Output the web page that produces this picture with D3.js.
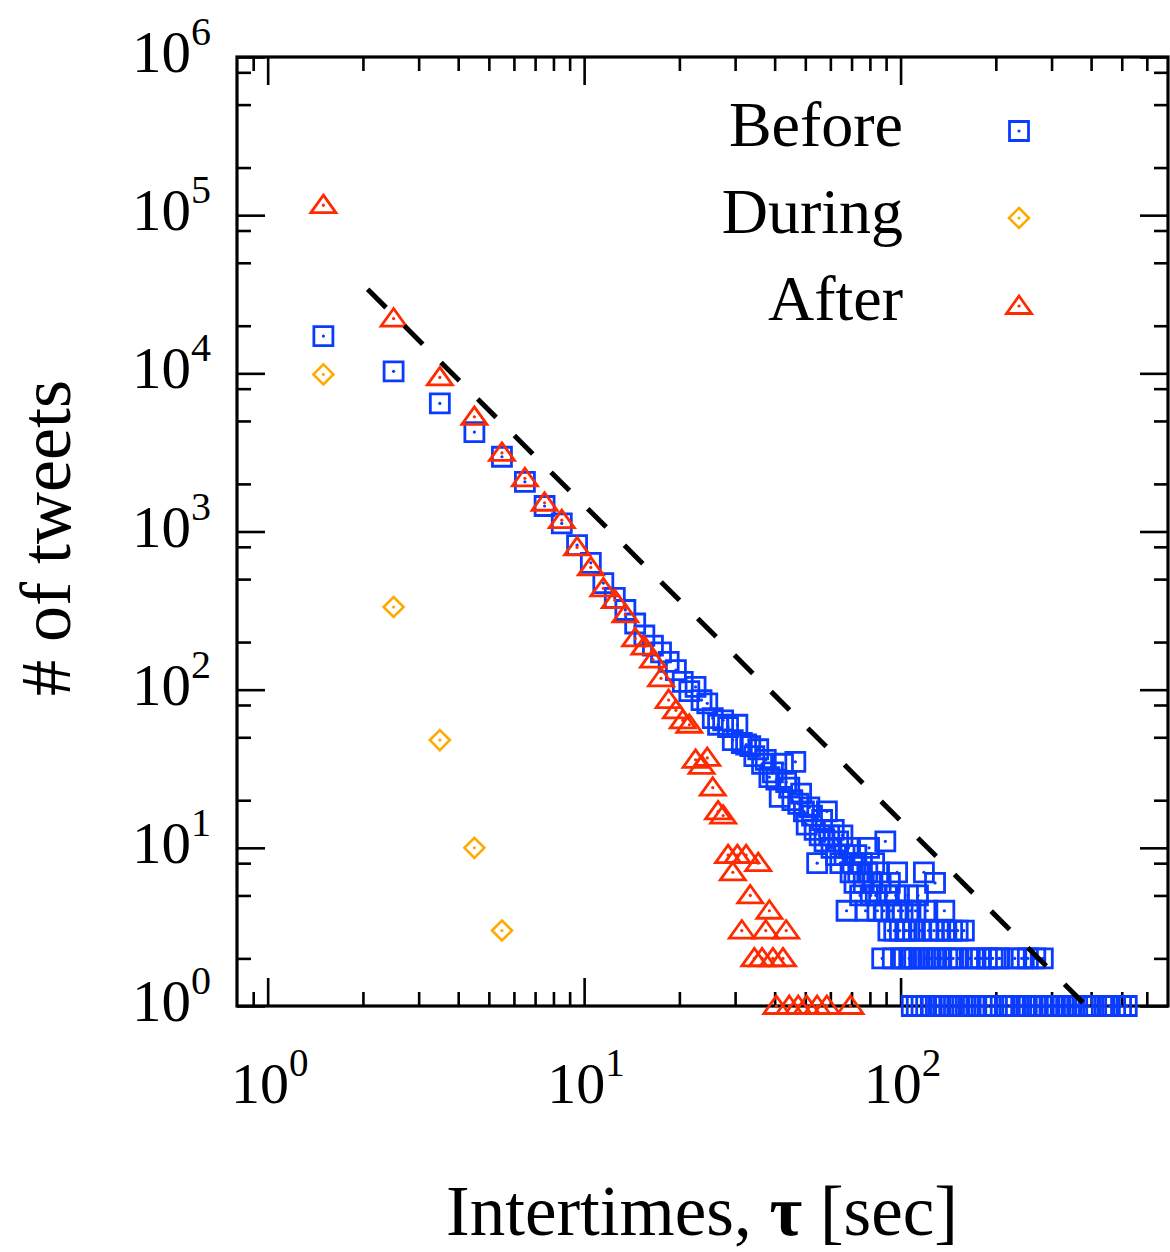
<!DOCTYPE html>
<html>
<head>
<meta charset="utf-8">
<script src="https://cdn.jsdelivr.net/npm/d3@7"></script>
<style>
  body { margin: 0; background: #fff; }
  text { font-family: "Liberation Serif", "Times New Roman", serif; fill: #000; }
</style>
</head>
<body>
<svg id="chart" width="1170" height="1252"></svg>
<script>
// tick values
const xMajor = [1, 10, 100];
const xMinor = [0.9, 2, 3, 4, 5, 6, 7, 8, 9, 20, 30, 40, 50, 60, 70, 80, 90, 200, 300, 400, 500, 600];
const yMajor = [1, 10, 100, 1000, 10000, 100000, 1000000];
const yMinor = [2, 5, 8, 20, 50, 80, 200, 500, 800, 2000, 5000, 8000, 20000, 50000, 80000, 200000, 500000, 800000];

// Before
const beforeX = [1.5, 2.5, 3.5, 4.5, 5.5, 6.5, 7.5, 8.5, 9.5, 10.5, 11.5, 12.5, 13.5, 14.5, 15.5, 16.5, 17.5, 18.5, 19.5,
  20.5, 21.5, 22.5, 23.5, 24.5, 25.5, 26.5, 27.5, 28.5, 29.5, 30.5, 31.5, 32.5, 33.5, 34.5, 35.5, 36.5, 37.5, 38.5, 39.5,
  40.5, 41.5, 42.5, 43.5, 44.5, 45.5, 46.5, 47.5, 48.5, 49.5, 50.5, 51.5, 52.5, 53.5, 54.5, 55.5, 56.5, 57.5, 58.5, 59.5,
  60.5, 61.5, 62.5, 63.5, 64.5, 65.5, 66.5, 67.5, 68.5, 69.5, 70.5, 71.5, 72.5, 73.5, 74.5, 75.5, 76.5, 77.5, 78.5, 79.5,
  80.5, 81.5, 82.5, 83.5, 84.5, 85.5, 86.5, 87.5, 88.5, 89.5, 90.5, 91.5, 92.5, 93.5, 94.5, 95.5, 96.5, 97.5, 98.5, 99.5,
  100.5, 101.5, 102.5, 103.5, 104.5, 105.5, 106.5, 107.5, 108.5, 109.5, 110.5, 111.5, 112.5, 113.5, 114.5, 115.5, 116.5,
  118.5, 119.5, 120.5, 121.5, 122.5, 124.5, 125.5, 127.5, 128.5, 129.5, 131.5, 133.5, 134.5, 136.5, 137.5, 139.5, 140.5,
  142.5, 145.5, 146.5, 147.5, 151.5, 152.5, 153.5, 158.5, 160.5, 165.5, 166.5, 172.5, 173.5, 179.5, 180.5, 187.5, 188.5,
  195.5, 196.5, 204.5, 205.5, 213.5, 221.5, 229.5, 231.5, 240.5, 241.5, 250.5, 252.5, 261.5, 266.5, 271.5, 281.5, 283.5,
  295.5, 307.5, 320.5, 333.5, 347.5, 361.5, 376.5, 392.5, 406.5, 441.5, 458.5, 476.5, 497.5, 518.5];
const beforeY = [17200, 10300, 6450, 4250, 2970, 2060, 1450, 1125, 820, 634, 472, 380, 319, 262, 220, 190, 172, 150, 133,
  112, 98, 104, 86, 82, 66, 60, 64, 58, 48, 60, 46, 45, 44, 38, 42, 34, 36, 28, 30,
  27, 21, 34, 26, 24, 20, 35, 19, 22, 17, 14, 18, 16, 13, 8, 12, 15, 11, 17, 12,
  10, 13, 9, 11, 8, 12, 9, 4, 10, 7, 8, 6, 9, 7, 5, 8, 6, 4, 7, 10,
  5, 6, 8, 5, 4, 7, 6, 2, 4, 11, 5, 3, 6, 4, 2, 3, 5, 7, 4, 3,
  2, 4, 2, 3, 3, 5, 2, 4, 1, 3, 2, 4, 1, 5, 2, 3, 1,
  7, 2, 1, 4, 3, 2, 1, 3, 6, 2, 1, 3, 2, 1, 4, 3, 2,
  1, 3, 2, 1, 3, 2, 1, 3, 1, 2, 1, 2, 1, 2, 1, 2, 1,
  2, 1, 2, 2, 1, 1, 2, 1, 1, 2, 1, 2, 1, 2, 1, 2, 1,
  1, 1, 1, 1, 1, 1, 1, 1, 1, 1, 1, 1, 1, 1];

// During
const duringX = [1.5, 2.5, 3.5, 4.5, 5.5];
const duringY = [9840, 333, 48, 10, 3];

// After
const afterX = [1.5, 2.5, 3.5, 4.5, 5.5, 6.5, 7.5, 8.5, 9.5, 10.5, 11.5, 12.5, 13.5, 14.5, 15.5, 16.5, 17.5, 18.5, 19.5,
  20.5, 21.5, 22.5, 23.5, 24.5, 25.5, 26.5, 27.5, 28.5, 29.5, 30.5, 31.5, 32.5, 33.5, 34.5, 35.5, 36.5, 37.5, 38.5, 39.5,
  40.5, 42.5, 43.5, 44.5, 47.5, 50.5, 54.5, 58.5, 69.5];
const afterY = [115700, 22200, 9420, 5310, 3140, 2170, 1520, 1180, 793, 593, 437, 368, 299, 211, 187, 155, 118, 86, 74,
  64, 60, 36, 33, 37, 24, 17, 16, 9, 7, 9, 3, 9, 5, 2, 8, 2, 3, 4, 2,
  1, 2, 3, 1, 1, 1, 1, 1, 1];

// dashed guide, slope -2
const guideX = [2.07, 377];
const guideY = [34000, 1.05];

const seriesNames = ['Before', 'During', 'After'];
const seriesColors = ['#0a3cff', '#ffaa00', '#ff2a00'];

const W = 1170, H = 1252;
const pLeft = 237, pRight = 1168, pTop = 57, pBottom = 1006;

const svg = d3.select('#chart');
svg.append('rect').attr('width', W).attr('height', H).attr('fill', '#fff');

const x = d3.scaleLog().domain([0.8, 700]).range([pLeft, pRight]);
const y = d3.scaleLog().domain([1, 1e6]).range([pBottom, pTop]);

// axes: ticks on all four sides, pointing inward
function addAxis(gen, tx, ty, vals, len) {
  svg.append('g')
    .attr('transform', 'translate(' + tx + ',' + ty + ')')
    .call(gen.tickValues(vals).tickSize(-len).tickSizeOuter(0).tickFormat(''))
    .call(g => g.select('.domain').remove())
    .call(g => g.selectAll('line').attr('stroke', '#000').attr('stroke-width', 2.6));
}
addAxis(d3.axisBottom(x), 0, pBottom, xMajor, 28);
addAxis(d3.axisBottom(x), 0, pBottom, xMinor, 14);
addAxis(d3.axisTop(x), 0, pTop, xMajor, 28);
addAxis(d3.axisTop(x), 0, pTop, xMinor, 14);
addAxis(d3.axisLeft(y), pLeft, 0, yMajor, 28);
addAxis(d3.axisLeft(y), pLeft, 0, yMinor, 14);
addAxis(d3.axisRight(y), pRight, 0, yMajor, 28);
addAxis(d3.axisRight(y), pRight, 0, yMinor, 14);

svg.append('rect')
  .attr('x', pLeft).attr('y', pTop)
  .attr('width', pRight - pLeft).attr('height', pBottom - pTop)
  .attr('fill', 'none').attr('stroke', '#000').attr('stroke-width', 3.2);

// tick labels 10^n
function powLabel(sel, v, big, small) {
  const e = Math.round(Math.log10(v));
  sel.append('tspan').attr('font-size', big).text('10');
  sel.append('tspan').attr('font-size', small).attr('dy', -27).text(e);
}
xMajor.forEach(v => {
  const t = svg.append('text')
    .attr('x', x(v) + 2).attr('y', 1103)
    .attr('text-anchor', 'middle');
  powLabel(t, v, 58, 39);
});
yMajor.forEach(v => {
  const t = svg.append('text')
    .attr('x', 211).attr('y', y(v) + 15)
    .attr('text-anchor', 'end');
  powLabel(t, v, 59, 40);
});

// axis titles
const xt = svg.append('text')
  .attr('x', 702).attr('y', 1235)
  .attr('text-anchor', 'middle')
  .attr('font-size', 71);
xt.append('tspan').text('Intertimes, ');
xt.append('tspan').attr('font-weight', 'bold').text('τ');
xt.append('tspan').text(' [sec]');

svg.append('text')
  .attr('transform', 'translate(70,538) rotate(-90)')
  .attr('text-anchor', 'middle')
  .attr('font-size', 72)
  .text('# of tweets');

// markers
const markerPaths = [
  'M-9.5,-9.5H9.5V9.5H-9.5Z',
  'M0,-10L10,0L0,10L-10,0Z',
  'M0,-10L12.5,7.5L-12.5,7.5Z'
];
const markerWidths = [2.8, 2.6, 2.8];

function drawSeries(xs, ys, i) {
  const pts = xs.map((v, k) => [v, ys[k]]);
  const g = svg.append('g').attr('class', 'series-' + seriesNames[i]);
  const m = g.selectAll('g').data(pts).enter().append('g')
    .attr('transform', d => 'translate(' + x(d[0]) + ',' + y(d[1]) + ')');
  m.append('path')
    .attr('d', markerPaths[i])
    .attr('fill', 'none')
    .attr('stroke', seriesColors[i])
    .attr('stroke-width', markerWidths[i]);
  m.append('circle').attr('r', 1.6).attr('fill', seriesColors[i]);
}
drawSeries(beforeX, beforeY, 0);
drawSeries(duringX, duringY, 1);
drawSeries(afterX, afterY, 2);

// dashed power-law guide
svg.append('path')
  .datum(guideX.map((v, k) => [v, guideY[k]]))
  .attr('d', d3.line().x(d => x(d[0])).y(d => y(d[1])))
  .attr('fill', 'none')
  .attr('stroke', '#000')
  .attr('stroke-width', 5)
  .attr('stroke-dasharray', '26 25.8');

// legend
const legendY = [146, 233, 320];
const markY = [131, 218, 306];
seriesNames.forEach((name, i) => {
  svg.append('text')
    .attr('x', 903).attr('y', legendY[i])
    .attr('text-anchor', 'end')
    .attr('font-size', 64)
    .text(name);
  const m = svg.append('g').attr('transform', 'translate(1019,' + markY[i] + ')');
  m.append('path')
    .attr('d', markerPaths[i])
    .attr('fill', 'none')
    .attr('stroke', seriesColors[i])
    .attr('stroke-width', markerWidths[i]);
  m.append('circle').attr('r', 1.6).attr('fill', seriesColors[i]);
});
</script>
</body>
</html>
